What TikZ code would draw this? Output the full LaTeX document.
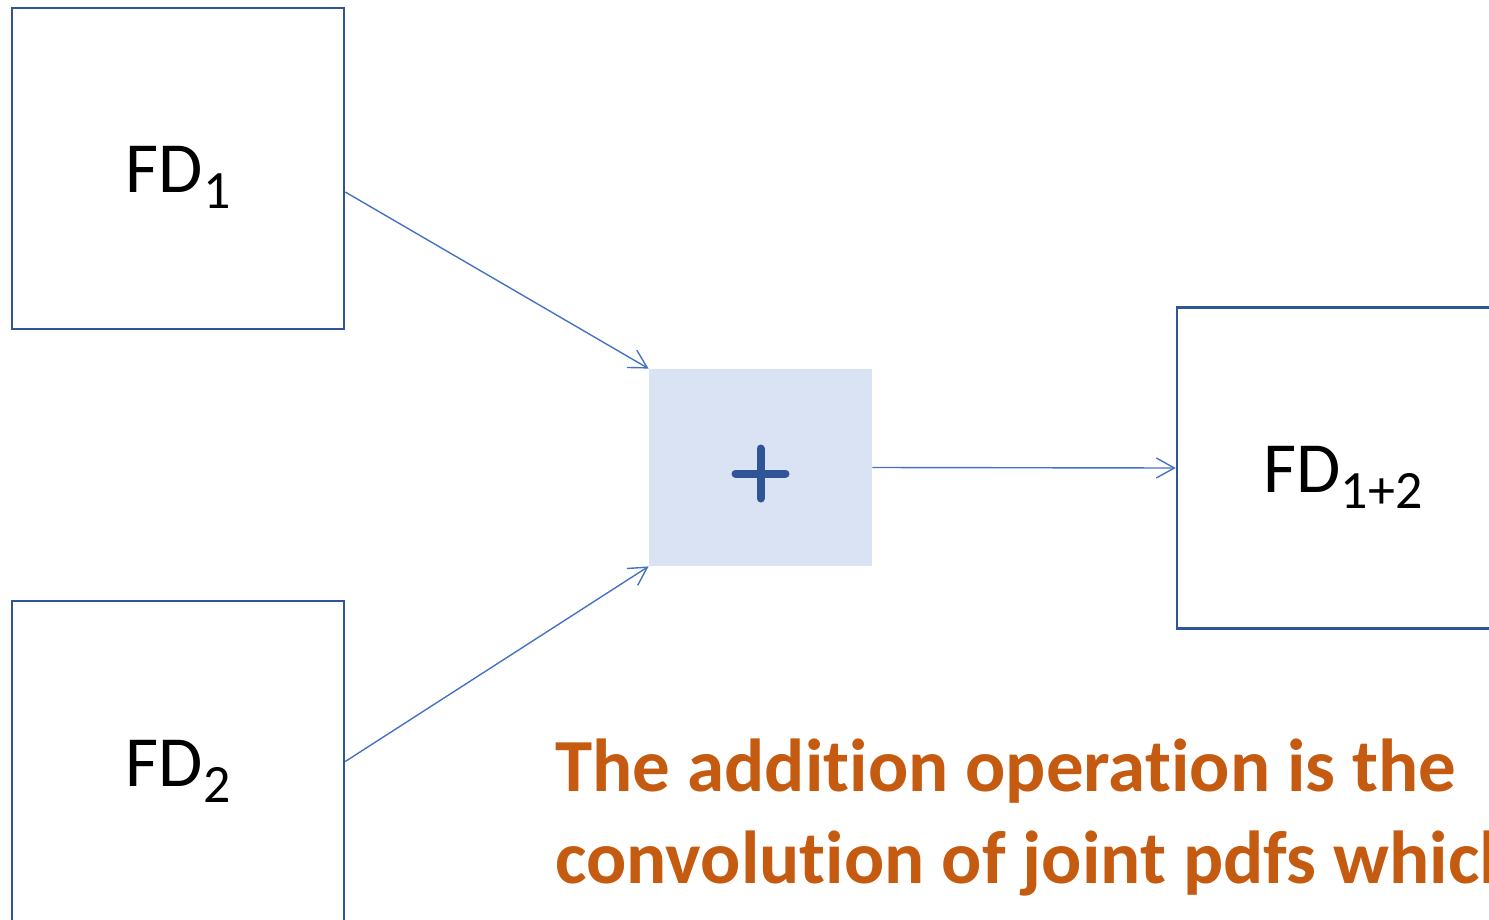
\documentclass[tikz,border=0pt]{standalone}
\usepackage{fontspec}
\setmainfont{Carlito}[Ligatures=NoCommon]
\usetikzlibrary{arrows.meta}
\definecolor{boxline}{HTML}{2F5597}
\definecolor{arrowline}{HTML}{4472C4}
\definecolor{sumfill}{HTML}{DAE3F3}
\definecolor{notecol}{HTML}{C55A11}
% label with its baseline a fixed distance below the node centre
\newcommand{\fdlabel}[1]{\raisebox{-12.25pt}[0pt][0pt]{FD\raisebox{-8pt}{\fontsize{27}{27}\selectfont #1}}}
\begin{document}
\begin{tikzpicture}[x=0.5pt,y=-0.5pt,
  fdbox/.style={draw=boxline,line width=1.25pt,minimum width=166pt,minimum height=160.5pt,
    inner sep=0pt,font=\fontsize{36}{36}\selectfont},
  sumbox/.style={fill=sumfill,minimum width=111.5pt,minimum height=98.5pt,inner sep=0pt},
  link/.style={draw=arrowline,line width=0.7pt,-{Straight Barb[length=9pt,width=10pt,line width=0.7pt]}}]
\useasboundingbox (0,0) rectangle (1489,920);
\clip (0,0) rectangle (1489,920);
\node[fdbox] (fd1) at (178,168.5) {\fdlabel{1}};
\node[fdbox] (fd2) at (178,761.5) {\fdlabel{2}};
\node[fdbox] (fd12) at (1343,468) {\fdlabel{1+2}};
\node[sumbox] (sum) at (760.5,467.5) {};
\coordinate (plus) at ([yshift=-3pt]sum.center);
\draw[boxline,line width=4pt,line cap=round] ([xshift=-12.5pt]plus) -- ([xshift=12.5pt]plus)
  ([yshift=-12.5pt]plus) -- ([yshift=12.5pt]plus);
\draw[link] ([yshift=-11.75pt]fd1.east) -- (sum.north west);
\draw[link] (fd2.east) -- (sum.south west);
\draw[link] (sum.east) -- (fd12.west);
\node[anchor=base west,align=left,inner sep=0pt,text=notecol,
  font=\fontsize{37.5}{46}\selectfont\bfseries] (note) at (555,883)
  {The addition operation is the\\convolution of joint pdfs which};
\end{tikzpicture}
\end{document}
